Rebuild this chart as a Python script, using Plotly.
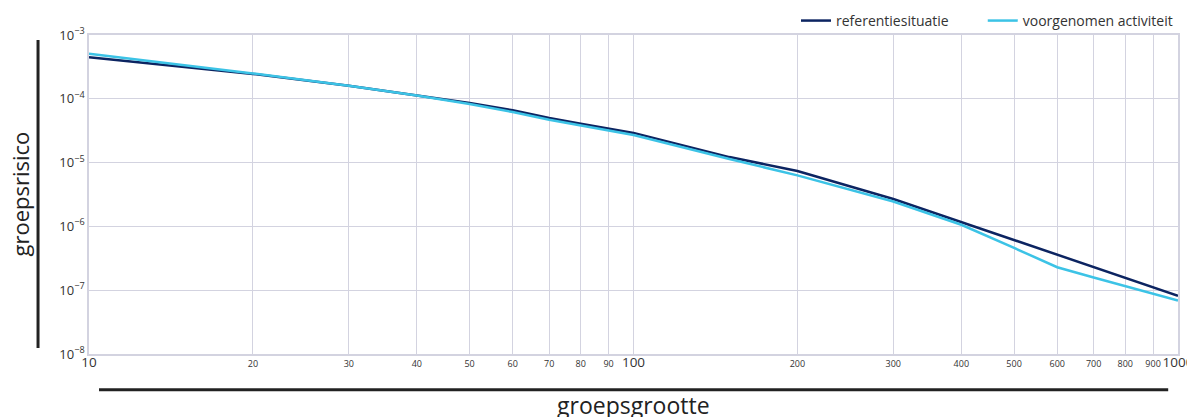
import plotly.graph_objects as go

groepsgrootte = [10, 20, 30, 40, 50, 60, 70, 80, 90, 100, 150, 200, 300, 400, 500, 600, 700, 800, 900, 1000]
referentiesituatie = [4.5e-4, 2.45e-4, 1.6e-4, 1.13e-4, 8.6e-5, 6.6e-5, 5.0e-5, 4.07e-5, 3.37e-5, 2.92e-5,
                      1.22e-5, 7.4e-6, 2.69e-6, 1.17e-6, 6.2e-7, 3.58e-7, 2.3e-7, 1.55e-7, 1.11e-7, 8.2e-8]
voorgenomen = [5.1e-4, 2.5e-4, 1.6e-4, 1.13e-4, 8.3e-5, 6.2e-5, 4.7e-5, 3.84e-5, 3.17e-5, 2.71e-5,
               1.14e-5, 6.3e-6, 2.46e-6, 1.06e-6, 4.6e-7, 2.29e-7, 1.58e-7, 1.17e-7, 8.9e-8, 6.9e-8]

x_tickvals = [10, 20, 30, 40, 50, 60, 70, 80, 90, 100, 200, 300, 400, 500, 600, 700, 800, 900, 1000]
big_ticks = {10, 100, 1000}
x_ticktext = [f"<span style='font-size:13.5px'>{v}</span>" if v in big_ticks else str(v) for v in x_tickvals]
y_tickvals = [1e-3, 1e-4, 1e-5, 1e-6, 1e-7, 1e-8]
y_ticktext = ["10<sup>−3</sup>", "10<sup>−4</sup>", "10<sup>−5</sup>", "10<sup>−6</sup>", "10<sup>−7</sup>", "10<sup>−8</sup>"]

navy = "#0c2461"
cyan = "#3cc3e6"
grid = "#d3d3e0"

fig = go.Figure()
fig.add_trace(go.Scatter(x=groepsgrootte, y=referentiesituatie, mode="lines",
                         name="referentiesituatie" + "&nbsp;" * 8,
                         line=dict(color=navy, width=2.5)))
fig.add_trace(go.Scatter(x=groepsgrootte, y=voorgenomen, mode="lines", name="voorgenomen activiteit",
                         line=dict(color=cyan, width=2.5)))

fig.update_layout(
    width=1195, height=417,
    margin=dict(l=81, r=25, t=27, b=71, autoexpand=False),
    paper_bgcolor="white", plot_bgcolor="white",
    font=dict(family="Open Sans, Noto Sans, sans-serif", color="#333333"),
    showlegend=True,
    legend=dict(orientation="h", x=1.0, xanchor="right", y=1.044, yanchor="middle",
                font=dict(size=14, color="#333333"), bgcolor="rgba(0,0,0,0)"),
    xaxis=dict(type="log", range=[1, 3], tickvals=x_tickvals, ticktext=x_ticktext, tickangle=0,
               tickfont=dict(size=9, color="#333333"), showgrid=True, gridcolor=grid, gridwidth=1,
               showline=True, linecolor=grid, linewidth=1.5, mirror=True, zeroline=False, ticks="",
               automargin=False, ticklabeloverflow="allow"),
    yaxis=dict(type="log", range=[-8, -3], tickvals=y_tickvals, ticktext=y_ticktext, tickangle=0,
               tickfont=dict(size=13, color="#333333"), showgrid=True, gridcolor=grid, gridwidth=1,
               showline=True, linecolor=grid, linewidth=1.5, mirror=True, zeroline=False, ticks="",
               automargin=False, ticklabeloverflow="allow"),
)

# axis titles
fig.add_annotation(text="groepsrisico", xref="paper", yref="paper", x=0, y=0.5, xanchor="center",
                   yanchor="middle", textangle=-90, showarrow=False, font=dict(size=22, color="#222222"),
                   xshift=-70)
fig.add_annotation(text="groepsgrootte", xref="paper", yref="paper", x=0.5, y=0, yanchor="top",
                   showarrow=False, font=dict(size=23, color="#222222"), yshift=-33)

# decorative axis bars
fig.add_shape(type="line", xref="paper", yref="paper", x0=-0.0468, x1=-0.0468, y0=0.019, y1=0.984,
              line=dict(color="#222222", width=3))
fig.add_shape(type="line", xref="paper", yref="paper", x0=0.0092, x1=0.991, y0=-0.112, y1=-0.112,
              line=dict(color="#222222", width=3))

fig.write_html("out.html")
